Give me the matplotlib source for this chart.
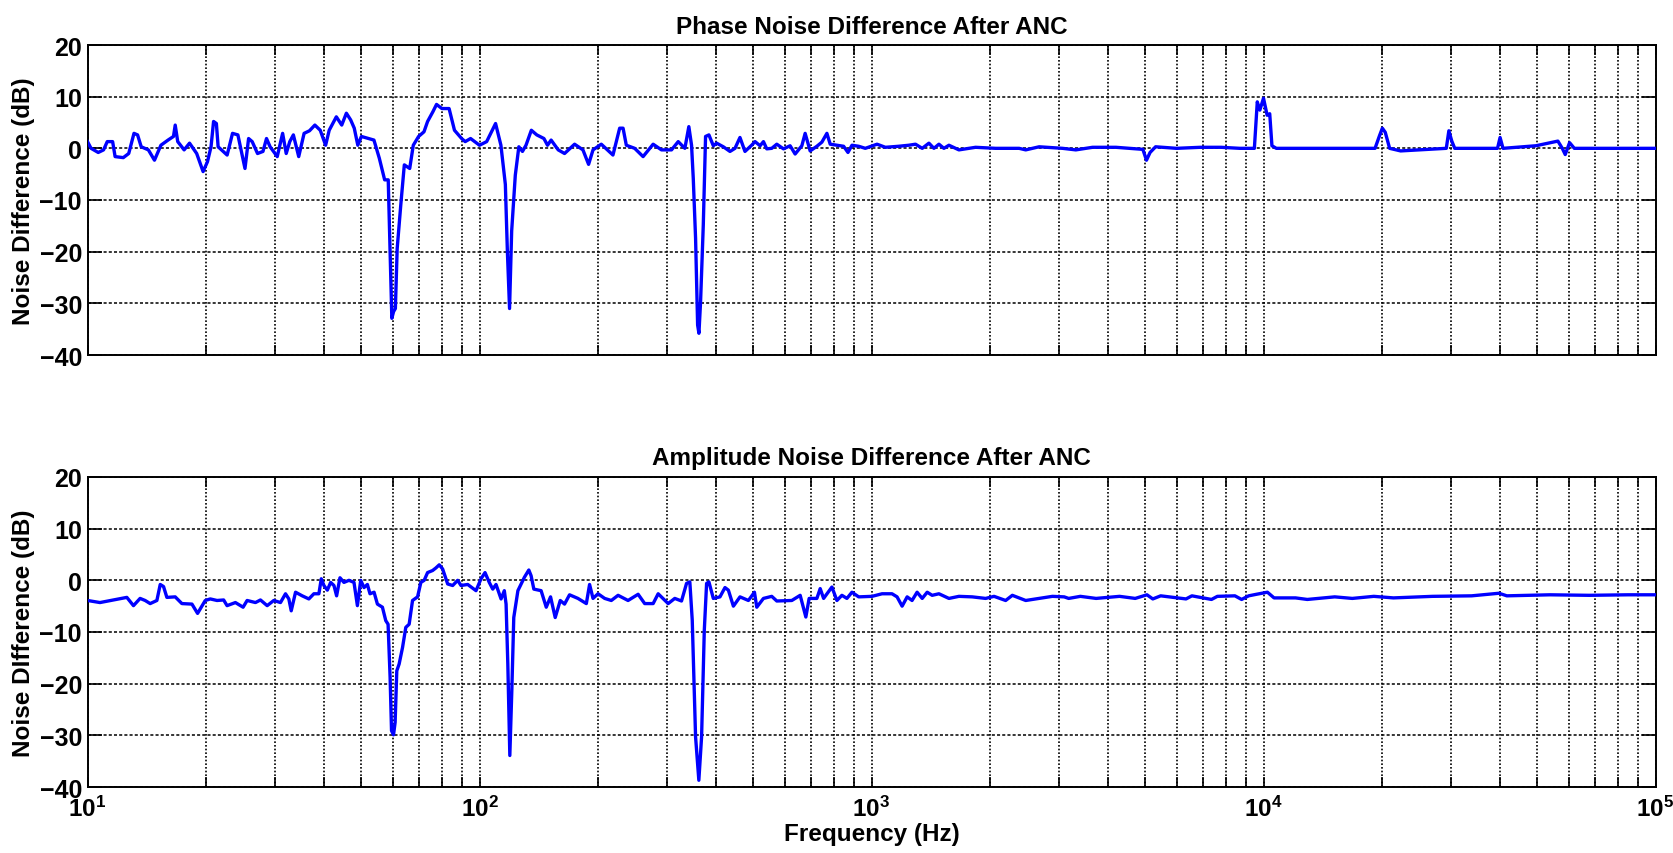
import numpy as np
import matplotlib
matplotlib.use("Agg")
import matplotlib.pyplot as plt
from matplotlib.ticker import LogLocator, NullFormatter, FuncFormatter, FixedLocator

plt.rcParams['font.family'] = ['Liberation Sans', 'DejaVu Sans']
plt.rcParams['font.weight'] = 'bold'
plt.rcParams['mathtext.fontset'] = 'custom'
plt.rcParams['mathtext.rm'] = 'Liberation Sans:bold'
plt.rcParams['mathtext.bf'] = 'Liberation Sans:bold'
plt.rcParams['mathtext.it'] = 'Liberation Sans:bold'

# ---------------- data: phase noise difference (top) ----------------
phase_f_low = [10.0, 10.21, 10.65, 10.99, 11.23, 11.59, 11.76, 12.34, 12.74, 13.14, 13.42, 13.71,
               14.30, 14.82, 15.39, 16.05, 16.57, 16.74, 16.99, 17.64, 18.21, 18.99, 19.72, 20.23,
               20.66, 20.97, 21.32, 21.54, 22.71, 23.44, 24.19, 25.22, 25.76, 26.31, 27.15, 28.03,
               28.62, 29.23, 30.48, 31.46, 32.13, 32.81, 33.51, 34.58, 35.69, 36.84, 38.02, 39.24,
               40.50, 41.36, 43.13, 44.52, 45.75, 46.92, 47.92, 48.93, 49.97, 52.12, 53.79, 55.51,
               57.28, 58.50, 59.12, 59.75, 60.37, 61.01, 61.66, 62.97, 64.30, 66.37, 67.78, 69.93,
               72.17, 73.72, 76.07, 77.69, 80.19, 83.64, 86.33, 90.03, 91.94, 94.89, 100.0, 104.3,
               109.9, 113.4, 116.4, 117.8, 119.3, 120.8, 123.4, 126.0, 128.7, 131.4, 135.6, 140.0,
               146.0, 149.1, 152.3, 158.8]
phase_db_low = [1.3, 0.0, -0.8, -0.3, 1.3, 1.3, -1.6, -1.8, -1.0, 2.9, 2.6, 0.3,
                -0.3, -2.3, 0.6, 1.6, 2.3, 4.5, 1.3, -0.3, 1.0, -1.0, -4.5, -2.6,
                0.3, 5.2, 4.8, 0.3, -1.3, 2.9, 2.6, -3.9, 1.9, 1.3, -1.0, -0.6,
                1.9, 0.3, -1.6, 2.9, -1.0, 1.3, 2.6, -1.6, 2.9, 3.4, 4.5, 3.5,
                0.6, 3.5, 6.1, 4.5, 6.8, 5.5, 3.9, 0.6, 2.3, 1.9, 1.6, -1.9,
                -6.1, -6.1, -19.4, -32.9, -31.6, -31.0, -19.4, -11.0, -3.2, -3.9, 0.6, 2.3,
                3.2, 5.2, 7.1, 8.5, 7.7, 7.7, 3.5, 1.9, 1.3, 1.9, 0.6, 1.3,
                4.8, 0.6, -7.0, -20.0, -31.0, -16.0, -5.2, 0.3, -0.6, 0.6, 3.5, 2.6,
                1.9, 0.6, 1.6, -0.3]

phase_f_mid = [164.8, 174.8, 183.6, 189.8, 194.8, 204.5, 219.0, 227.8, 232.4, 236.9, 248.8, 261.4,
               277.3, 291.2, 308.9, 321.3, 334.1, 342.0, 347.5, 351.0, 355.8, 360.1, 362.9, 366.4,
               372.3, 377.3, 384.8, 394.9, 402.7, 418.8, 435.5, 448.5, 461.8, 475.6, 494.6]
phase_db_mid = [-1.0, 0.8, -0.3, -3.1, -0.3, 0.8, -1.3, 3.9, 3.9, 0.6, 0.0, -1.6,
                0.8, -0.3, -0.3, 1.3, 0.0, 4.2, 0.6, -5.8, -17.4, -34.2, -35.8, -29.7,
                -14.8, 2.3, 2.6, 0.5, 1.0, 0.3, -0.6, 0.0, 2.1, -0.6, 0.6]

phase_f_khz = [504.6, 519.7, 530.1, 540.5, 556.6, 573.3, 596.3, 620.0, 638.5, 664.2, 677.2, 697.4,
               725.5, 747.2, 769.5, 784.7, 816.1, 848.9, 870.9, 891.6, 927.5, 964.3, 1033, 1085,
               1173, 1245, 1295, 1347, 1401, 1443, 1486, 1530, 1576, 1671, 1843, 2073,
               2380, 2474, 2677, 3071, 3320, 3664]
phase_db_khz = [1.3, 0.5, 1.3, -0.1, 0.0, 0.8, -0.1, 0.5, -1.1, 0.5, 2.9, -0.5,
                0.4, 1.2, 2.9, 0.8, 0.6, 0.4, -0.8, 0.6, 0.4, 0.0, 0.8, 0.2,
                0.4, 0.6, 0.8, 0.0, 1.0, 0.0, 0.8, 0.0, 0.6, -0.3, 0.2, 0.0,
                0.0, -0.3, 0.3, 0.0, -0.3, 0.2]

phase_f_high = [4203, 4923, 5029, 5136, 5305, 6000, 6900, 7800, 8700, 9478, 9641, 9788,
                10000, 10216, 10372, 10508, 10782, 15000, 19255, 19757, 20100, 20447, 20978, 22377,
                29264, 29706, 30223, 30750, 39537, 40135, 40832, 49545, 56365, 57837, 58845, 60368,
                62078, 68379, 100000]
phase_db_high = [0.2, -0.2, -2.3, -0.8, 0.3, 0.0, 0.2, 0.2, 0.0, 0.0, 9.0, 7.4,
                 9.7, 6.4, 6.7, 0.5, 0.0, 0.0, 0.0, 2.4, 3.9, 3.1, 0.0, -0.5,
                 0.0, 3.4, 1.4, 0.0, 0.0, 2.1, 0.0, 0.5, 1.4, 0.0, -1.2, 1.1,
                 0.0, 0.0, 0.0]

# ---------------- data: amplitude noise difference (bottom) ----------------
amp_f_low = [10.0, 10.76, 11.64, 12.60, 13.10, 13.62, 14.03, 14.45, 15.03, 15.33, 15.63, 15.94,
             16.74, 17.41, 18.47, 19.09, 19.97, 20.57, 21.40, 22.25, 22.70, 23.84, 24.94, 25.54,
             26.82, 27.62, 28.73, 29.87, 31.07, 32.00, 32.63, 33.09, 33.94, 35.30, 36.70, 37.80,
             38.93, 39.48, 40.10, 40.91, 41.71, 42.53, 43.20, 44.06, 45.10, 46.45, 47.84, 48.81,
             49.77, 50.75, 51.76, 52.56, 53.83, 54.90, 56.54, 57.66, 58.45, 59.15, 59.64, 60.35,
             60.92, 61.52, 62.37, 63.63, 64.86, 66.15, 67.48, 69.50, 70.86, 72.26, 73.71, 75.92,
             77.41, 78.94, 80.53, 82.94, 85.42, 87.97, 89.70, 93.30, 97.97, 100.9, 103.3, 105.9,
             108.1, 110.2, 113.5, 115.7, 116.9, 118.1, 119.5, 120.9, 122.3, 125.3, 127.7, 130.2,
             133.6, 135.4, 137.6, 143.6, 148.0, 151.8, 156.0, 160.7, 164.8, 169.7]
amp_db_low = [-3.9, -4.3, -3.8, -3.3, -4.9, -3.5, -3.9, -4.5, -3.9, -0.8, -1.2, -3.3,
              -3.2, -4.5, -4.6, -6.4, -3.9, -3.6, -3.9, -3.8, -4.9, -4.3, -5.2, -3.9,
              -4.3, -3.8, -4.9, -3.9, -4.3, -2.6, -3.6, -5.9, -2.3, -3.0, -3.6, -2.6,
              -2.6, 0.3, -1.0, -1.9, -0.4, -1.0, -3.0, 0.5, -0.4, 0.0, -0.4, -4.9,
              0.0, -1.4, -0.8, -2.6, -2.3, -4.6, -5.2, -7.8, -8.5, -18.8, -29.1, -29.9,
              -27.5, -17.5, -16.2, -13.0, -9.1, -8.5, -3.9, -3.2, -0.4, 0.0, 1.5, 1.9,
              2.4, 3.0, 2.2, -0.7, -1.0, 0.0, -1.0, -0.8, -2.0, 0.3, 1.5, -0.4,
              -1.7, -0.8, -3.6, -2.0, -4.6, -16.2, -33.9, -21.4, -7.2, -2.0, -0.7, 0.6,
              2.0, 0.9, -1.7, -2.0, -5.2, -3.2, -7.2, -3.9, -4.6, -2.8]

amp_f_mid = [178.3, 187.3, 190.9, 194.8, 200.6, 208.6, 216.9, 225.7, 239.3, 253.9, 263.9, 277.3,
             285.6, 302.9, 314.9, 327.6, 337.4, 344.0, 348.9, 355.8, 362.7, 368.6, 374.5, 379.6,
             384.8, 394.9, 410.6, 422.9, 431.4, 444.3, 461.9, 485.3, 502.8, 509.7, 530.1, 556.6,
             573.3, 626.2, 657.7, 680.0, 693.3, 725.5, 739.8, 754.8, 792.5, 816.1, 840.5, 865.5,
             891.6, 927.5, 1003, 1064, 1128, 1162, 1197, 1233, 1269, 1307, 1347, 1387,
             1428, 1486, 1576, 1671, 1807, 1955, 2054, 2199, 2287, 2474, 2677, 2894, 3101]
amp_db_mid = [-3.5, -4.5, -0.8, -3.5, -2.6, -3.5, -3.9, -2.9, -3.9, -2.7, -4.5, -4.5,
              -2.6, -4.5, -3.5, -4.0, -0.6, -0.3, -7.7, -30.3, -38.7, -30.3, -9.7, -0.6,
              -0.3, -3.5, -3.2, -1.4, -1.9, -5.0, -3.2, -3.9, -2.3, -5.2, -3.5, -3.1,
              -4.0, -3.9, -2.9, -7.1, -3.5, -3.5, -1.6, -3.5, -1.3, -3.9, -2.9, -3.5,
              -2.3, -3.2, -3.1, -2.6, -2.6, -3.2, -5.0, -3.2, -3.9, -2.3, -3.5, -2.3,
              -2.9, -2.6, -3.5, -3.1, -3.2, -3.5, -3.1, -3.9, -2.9, -3.9, -3.5, -3.1, -3.2]

amp_f_high = [3184, 3411, 3740, 4007, 4293, 4707, 5043, 5219, 5467, 6058, 6344, 6567,
              7368, 7626, 8455, 8793, 9165, 9594, 10233, 10640, 12071, 12933, 15193, 16846,
              19115, 21448, 26985, 33959, 39878, 41761, 53767, 67671, 85142, 100000]
amp_db_high = [-3.5, -3.1, -3.5, -3.3, -3.1, -3.5, -2.8, -3.6, -3.0, -3.4, -3.6, -3.0,
               -3.7, -3.1, -3.0, -3.7, -3.0, -2.7, -2.3, -3.4, -3.4, -3.7, -3.2, -3.5,
               -3.1, -3.4, -3.1, -3.0, -2.5, -3.0, -2.8, -2.9, -2.8, -2.8]

titles = ["Phase Noise Difference After ANC", "Amplitude Noise Difference After ANC"]
ylabels = ["Noise Difference (dB)", "Noise DIfference (dB)"]
xlabel = "Frequency (Hz)"
y_ticks = [-40, -30, -20, -10, 0, 10, 20]
x_decades = [10, 100, 1000, 10000, 100000]

phase_f = phase_f_low + phase_f_mid + phase_f_khz + phase_f_high
phase_db = phase_db_low + phase_db_mid + phase_db_khz + phase_db_high
amp_f = amp_f_low + amp_f_mid + amp_f_high
amp_db = amp_db_low + amp_db_mid + amp_db_high
assert len(phase_f) == len(phase_db) and len(amp_f) == len(amp_db)

W, H = 1673, 854
fig = plt.figure(figsize=(W / 100, H / 100), dpi=100)
left, width = 87.5 / W, 1568 / W
ax1 = fig.add_axes([left, 1 - 356 / H, width, 310 / H])
ax2 = fig.add_axes([left, 1 - 788 / H, width, 310 / H])

def fmt_dec(x, pos):
    e = int(round(np.log10(x)))
    return r"$\mathbf{10^{%d}}$" % e

for i, (ax, f, v) in enumerate([(ax1, phase_f, phase_db), (ax2, amp_f, amp_db)]):
    ax.set_xscale('log')
    ax.plot(f, v, color=(0, 0, 1), lw=2.4, solid_joinstyle='round', zorder=3)
    ax.set_xlim(10, 1e5)
    ax.set_ylim(-40, 20)
    ax.set_yticks(y_ticks)
    ax.xaxis.set_major_locator(FixedLocator(x_decades))
    ax.xaxis.set_minor_locator(LogLocator(base=10, subs=np.arange(2, 10), numticks=50))
    ax.xaxis.set_minor_formatter(NullFormatter())
    ax.grid(True, which='major', axis='x', color='black', linestyle=(0, (1, 1.2)), lw=1.2)
    ax.grid(True, which='minor', axis='x', color='black', linestyle=(0, (1, 1.2)), lw=1.2)
    ax.grid(True, which='major', axis='y', color='black', linestyle=(0, (2, 1.4)), lw=1.1)
    ax.tick_params(axis='both', which='both', direction='in', top=True, right=True,
                   width=1.2, pad=4)
    ax.tick_params(axis='y', which='major', length=10, labelsize=18)
    ax.tick_params(axis='x', which='major', length=7, labelsize=17.5)
    ax.tick_params(axis='x', which='minor', length=7)
    for sp in ax.spines.values():
        sp.set_linewidth(1.4)
    ax.set_title(titles[i], fontsize=17.5, fontweight='bold', pad=9)
    ax.set_ylabel(ylabels[i], fontsize=17.5, fontweight='bold')
    ax.yaxis.set_label_coords(-0.0335, 0.5)
    for lab in ax.get_yticklabels():
        lab.set_fontweight('bold')

ax1.xaxis.set_major_formatter(NullFormatter())
ax2.xaxis.set_major_formatter(FuncFormatter(fmt_dec))
ax2.tick_params(axis='x', which='major', pad=6)
ax2.set_xlabel(xlabel, fontsize=17.5, fontweight='bold', labelpad=1)

fig.savefig("out.png", dpi=100)
